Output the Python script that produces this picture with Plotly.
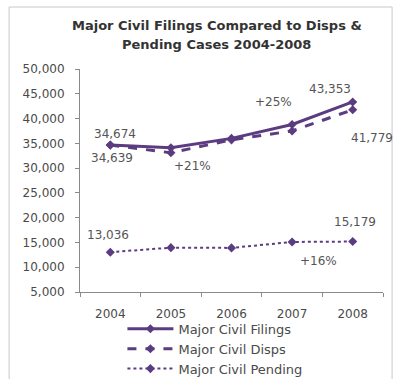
import plotly.graph_objects as go

# Case counts by year
years = ["2004", "2005", "2006", "2007", "2008"]
filings = [34674, 34100, 36000, 38800, 43353]
disps = [34639, 33100, 35700, 37500, 41779]
pending = [13036, 13950, 13900, 15100, 15179]

series_names = ["Major Civil Filings", "Major Civil Disps", "Major Civil Pending"]
y_ticks = [5000, 10000, 15000, 20000, 25000, 30000, 35000, 40000, 45000, 50000]
title_lines = ["Major Civil Filings Compared to Disps &amp;", "Pending Cases 2004-2008"]

purple = "#5b3c80"
text_grey = "#4a4a4a"
font_family = "'DejaVu Sans', sans-serif"

fig = go.Figure()
fig.add_trace(go.Scatter(
    x=years, y=filings, name=series_names[0], mode="lines+markers",
    line=dict(color=purple, width=3, dash="solid"),
    marker=dict(symbol="diamond", size=7, color=purple),
))
fig.add_trace(go.Scatter(
    x=years, y=disps, name=series_names[1], mode="lines+markers",
    line=dict(color=purple, width=3, dash="dash"),
    marker=dict(symbol="diamond", size=7, color=purple),
))
fig.add_trace(go.Scatter(
    x=years, y=pending, name=series_names[2], mode="lines+markers",
    line=dict(color=purple, width=2, dash="dot"),
    marker=dict(symbol="diamond", size=7, color=purple),
))

def pct(a, b):
    return f"+{round((b / a - 1) * 100)}%"

label_font = dict(family=font_family, size=12, color="#555555")
# (category index, value, text, x offset px, y offset px)
labels = [
    (0, filings[0], f"{filings[0]:,}", 5, 11),
    (0, disps[0], f"{disps[0]:,}", 2, -13),
    (1, disps[1], pct(disps[0], disps[-1]), 22, -13),
    (3, filings[3], pct(filings[0], filings[-1]), -19, 23),
    (4, filings[4], f"{filings[4]:,}", -23, 13),
    (4, disps[4], f"{disps[4]:,}", 19, -28),
    (0, pending[0], f"{pending[0]:,}", -2, 17),
    (4, pending[4], f"{pending[4]:,}", 2, 20),
    (3, pending[3], pct(pending[0], pending[-1]), 26, -19),
]
annotations = [
    dict(x=x, y=y, text=t, xshift=dx, yshift=dy, showarrow=False,
         xref="x", yref="y", font=label_font)
    for x, y, t, dx, dy in labels
]
# two-line chart title, placed line by line
for line, ypos in zip(title_lines, [1.197, 1.108]):
    annotations.append(dict(
        text=f"<b>{line}</b>", xref="paper", yref="paper", x=0.452, y=ypos,
        xanchor="center", yanchor="middle", showarrow=False,
        font=dict(family=font_family, size=13, color="#333333"),
    ))

fig.update_layout(
    width=393, height=379,
    margin=dict(l=80, r=10, t=69, b=87, autoexpand=False),
    paper_bgcolor="white", plot_bgcolor="white",
    font=dict(family=font_family, size=12, color=text_grey),
    showlegend=True,
    legend=dict(
        x=0.14, y=-0.098, xanchor="left", yanchor="top",
        font=dict(family=font_family, size=13, color=text_grey),
        bgcolor="rgba(0,0,0,0)", tracegroupgap=0, itemwidth=46,
    ),
    annotations=annotations,
    shapes=[dict(
        type="rect", xref="paper", yref="paper",
        x0=-0.234, x1=1.03, y0=-0.4, y1=1.278,
        line=dict(color="#c8c8c8", width=1), fillcolor="rgba(0,0,0,0)", layer="below",
    )],
)
fig.update_xaxes(
    type="category", range=[-0.5, 4.5],
    showline=True, linecolor="#8a8a8a", linewidth=1,
    ticks="outside", tickson="boundaries", ticklen=4, tickcolor="#8a8a8a",
    showgrid=False, tickfont=dict(size=12, color=text_grey), ticklabelstandoff=11,
)
fig.update_yaxes(
    range=[5000, 50000], tickvals=y_ticks, tickformat=",",
    showline=True, linecolor="#8a8a8a", linewidth=1,
    ticks="outside", ticklen=4, tickcolor="#8a8a8a",
    showgrid=False, zeroline=False, tickfont=dict(size=12, color=text_grey),
    ticklabelstandoff=8,
)

fig.write_html("out.html")
